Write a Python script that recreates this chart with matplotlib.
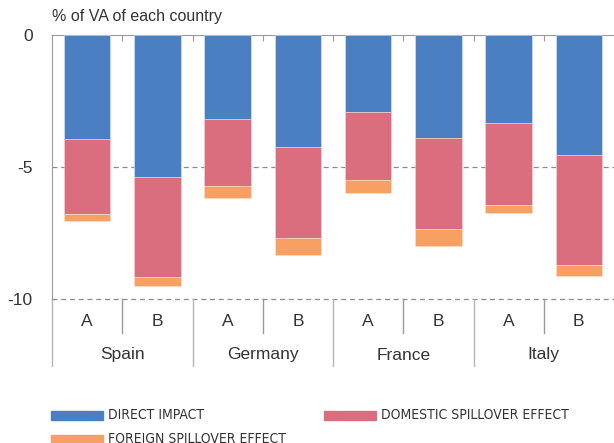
import numpy as np
from matplotlib import pyplot as plt
from matplotlib.patches import Rectangle
from matplotlib.transforms import blended_transform_factory

countries = ['Spain', 'Germany', 'France', 'Italy']
scenarios = ['A', 'B']
direct = [-3.94, -5.38, -3.17, -4.24, -2.92, -3.89, -3.35, -4.53]
domestic = [-2.84, -3.77, -2.55, -3.46, -2.57, -3.47, -3.09, -4.18]
foreign = [-0.25, -0.35, -0.47, -0.65, -0.48, -0.63, -0.31, -0.41]
legend_labels = ['DIRECT IMPACT', 'DOMESTIC SPILLOVER EFFECT', 'FOREIGN SPILLOVER EFFECT']

c_direct = '#4A80C2'
c_domestic = '#DB6E7E'
c_foreign = '#F89F63'
txt = '#333333'
line_grey = '#9a9a9a'

plt.rcParams['font.family'] = ['Liberation Sans', 'DejaVu Sans']

W, H = 614, 443
fig = plt.figure(figsize=(W / 100, H / 100), dpi=100)
ax = fig.add_axes([52 / W, 1 - 299 / H, 1 - 52 / W, (299 - 35) / H])

x = np.arange(len(direct))
direct = np.array(direct)
domestic = np.array(domestic)
foreign = np.array(foreign)
w = 0.66
ax.bar(x, direct, w, color=c_direct, edgecolor='#dfe8f3', linewidth=0.4, zorder=3)
ax.bar(x, domestic, w, bottom=direct, color=c_domestic, edgecolor='#f5d5da', linewidth=0.4, zorder=3)
ax.bar(x, foreign, w, bottom=direct + domestic, color=c_foreign, edgecolor='#fde2cf', linewidth=0.4, zorder=3)

ax.set_xlim(-0.5, 7.5)
ax.set_ylim(-10, 0)
ax.set_yticks([0, -5, -10])
ax.set_yticklabels(['0', '-5', '-10'])
ax.tick_params(axis='y', length=0, labelsize=12.5, labelcolor=txt, pad=14)
for yv in [-5, -10]:
    ax.axhline(yv, color='#8a8a8a', linestyle=(0, (4, 3)), linewidth=0.9, zorder=1, clip_on=False)

ax.xaxis.tick_top()
ax.set_xticks(np.arange(0.5, 7, 1.0))
ax.tick_params(axis='x', direction='in', length=4, color=line_grey, labeltop=False)

for s in ['right', 'bottom']:
    ax.spines[s].set_visible(False)
ax.spines['top'].set_color(line_grey)
ax.spines['left'].set_color(line_grey)

trans = blended_transform_factory(ax.transData, ax.transAxes)
h = 264.0
for i in range(len(direct)):
    ax.text(i, -22 / h, scenarios[i % 2], transform=trans, ha='center', va='center',
            fontsize=12.5, color=txt)
for i in range(len(countries)):
    ax.text(2 * i + 0.5, -56 / h, countries[i], transform=trans, ha='center', va='center',
            fontsize=12.5, color=txt)
    ax.plot([2 * i + 0.5, 2 * i + 0.5], [0, -34 / h], transform=trans, color=line_grey,
            linewidth=1, clip_on=False)
    ax.plot([2 * i - 0.5, 2 * i - 0.5], [0, -67 / h], transform=trans, color='#b5b5b5',
            linewidth=1, clip_on=False)

fig.text(52 / W, 1 - 17 / H, '% of VA of each country', fontsize=11.5, color=txt,
         ha='left', va='center')

# legend drawn by hand to match the layout
leg = [(51, 415, c_direct, legend_labels[0]),
       (324, 415, c_domestic, legend_labels[1]),
       (51, 439, c_foreign, legend_labels[2])]
for px, py, col, lab in leg:
    fig.patches.append(Rectangle((px / W, 1 - (py + 4.5) / H), 52 / W, 9 / H,
                                 color=col, transform=fig.transFigure))
    fig.text((px + 57) / W, 1 - py / H, lab, fontsize=10, color=txt,
             ha='left', va='center', family='DejaVu Sans', fontstretch='condensed')

fig.savefig('out.png', dpi=100)
